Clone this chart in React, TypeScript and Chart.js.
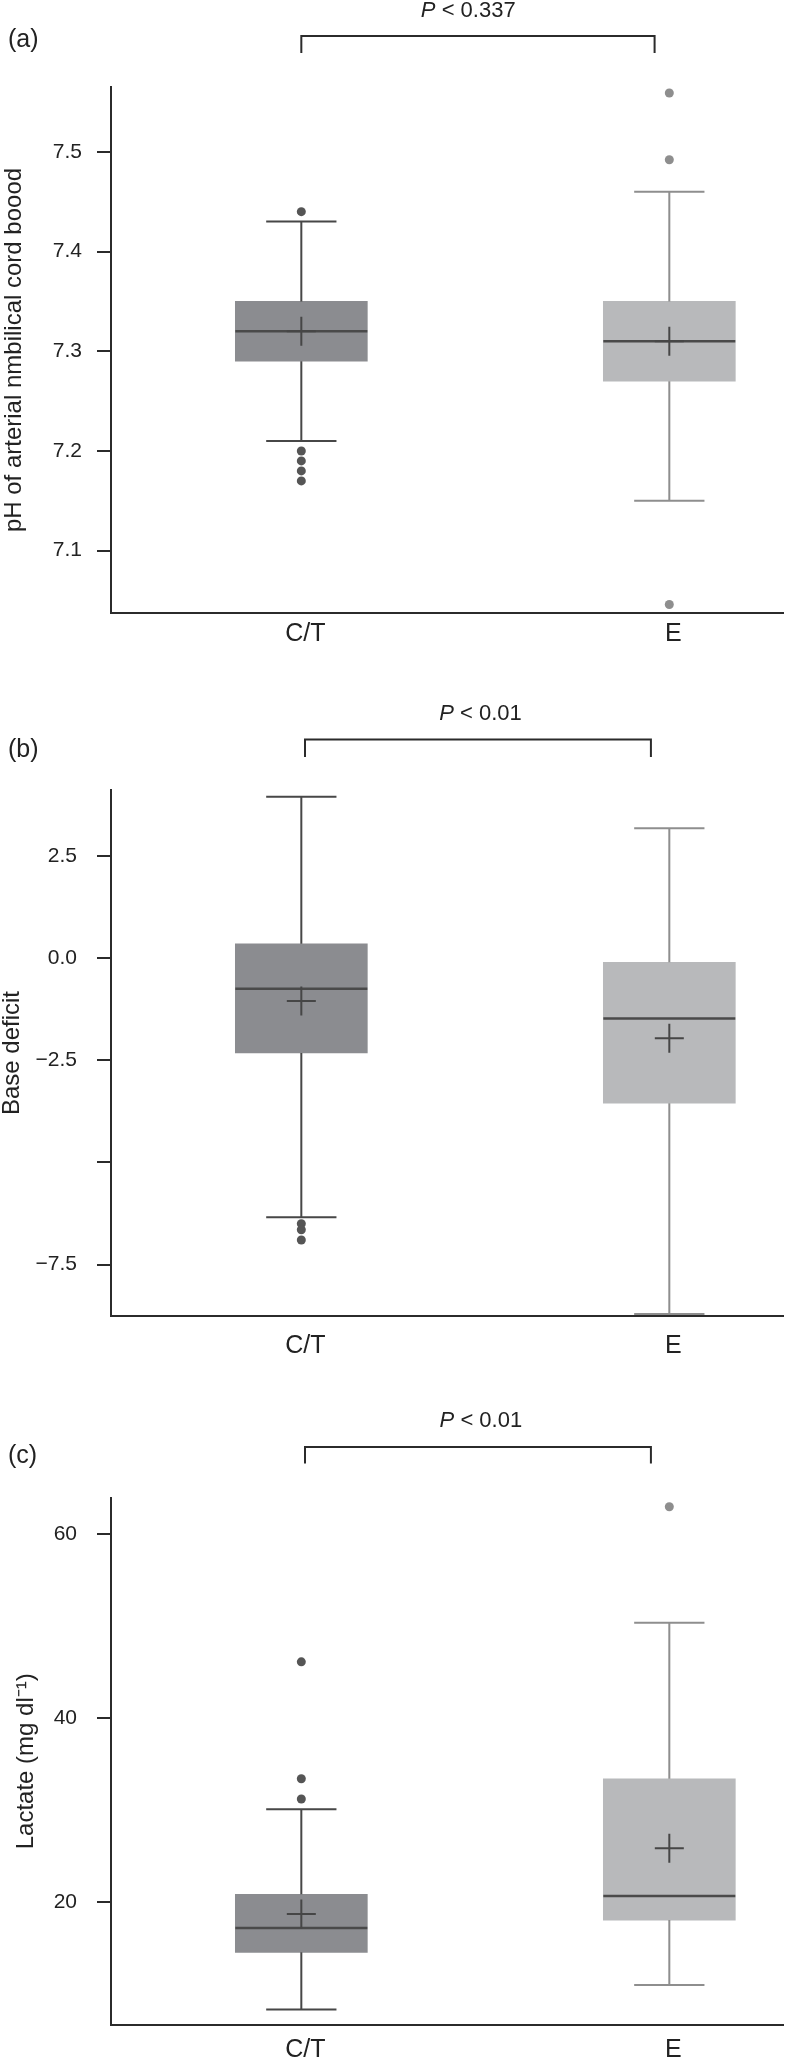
import React, { useEffect, useRef } from "react";
import { Chart, registerables } from "chart.js";

Chart.register(...registerables);

const FONT = '"Liberation Sans", Arial, Helvetica, sans-serif';

// ---------- data ----------
const groups = ["C/T", "E"];

// (a) pH of arterial umbilical cord blood
const phQ1 = [7.29, 7.27];
const phMedian = [7.32, 7.31];
const phQ3 = [7.35, 7.35];
const phMean = [7.32, 7.31];
const phWhiskerLow = [7.21, 7.15];
const phWhiskerHigh = [7.43, 7.46];
const phOutliersCT = [7.44, 7.2, 7.19, 7.18, 7.17];
const phOutliersE = [7.559, 7.492, 7.046];
const phTicks = [7.1, 7.2, 7.3, 7.4, 7.5];
const phTickLabels = ["7.1", "7.2", "7.3", "7.4", "7.5"];

// (b) Base deficit
const bdQ1 = [-2.32, -3.55];
const bdMedian = [-0.75, -1.48];
const bdQ3 = [0.35, -0.1];
const bdMean = [-1.05, -1.96];
const bdWhiskerLow = [-6.34, -8.71];
const bdWhiskerHigh = [3.95, 3.18];
const bdOutliersCT = [-6.5, -6.65, -6.9];
const bdOutliersE: number[] = [];
const bdTicks = [-7.5, -5, -2.5, 0, 2.5];
const bdTickLabels = ["\u22127.5", "", "\u22122.5", "0.0", "2.5"];

// (c) Lactate
const laQ1 = [14.55, 18.05];
const laMedian = [17.2, 20.67];
const laQ3 = [20.85, 33.4];
const laMean = [18.7, 25.85];
const laWhiskerLow = [8.35, 11.0];
const laWhiskerHigh = [30.1, 50.35];
const laOutliersCT = [46.1, 33.4, 31.2];
const laOutliersE = [62.95];
const laTicks = [20, 40, 60];
const laTickLabels = ["20", "40", "60"];

// ---------- styles ----------
const boxFill = ["#8b8c90", "#b8b9bb"];
const whiskerColor = ["#474747", "#8e8e8e"];
const outlierColor = ["#555555", "#8e8e8e"];
const medianColor = "#4a4a4a";
const meanColor = "#464646";
const axisColor = "#2b2b2b";
const textColor = "#222222";

type Spec = {
  letter: string;
  pValue: string;
  yTitle: string;
  q1: number[];
  median: number[];
  q3: number[];
  mean: number[];
  lo: number[];
  hi: number[];
  outCT: number[];
  outE: number[];
  ticks: number[];
  tickLabels: string[];
  yMin: number;
  yMax: number;
  height: number;
  top: number;
  xAxisH: number;
  tickPad: number;
  titlePad: number;
  xLabelPad: number;
  bracketY: number;
  bracketBottom: number;
  bracketL: number;
  bracketR: number;
  pX: number;
  pBaseline: number;
  letterY: number;
};

const specs: Spec[] = [
  {
    letter: "(a)", pValue: "0.337", yTitle: "pH of arterial nmbilical cord boood",
    q1: phQ1, median: phMedian, q3: phQ3, mean: phMean, lo: phWhiskerLow, hi: phWhiskerHigh,
    outCT: phOutliersCT, outE: phOutliersE, ticks: phTicks, tickLabels: phTickLabels,
    yMin: 7.0375, yMax: 7.565, height: 680, top: 87, xAxisH: 67, tickPad: 15, titlePad: 2, xLabelPad: 6,
    bracketY: 36, bracketBottom: 53, bracketL: 1.0, bracketR: 1.96, pX: 1.4536, pBaseline: 17, letterY: 40.5,
  },
  {
    letter: "(b)", pValue: "0.01", yTitle: "Base deficit",
    q1: bdQ1, median: bdMedian, q3: bdQ3, mean: bdMean, lo: bdWhiskerLow, hi: bdWhiskerHigh,
    outCT: bdOutliersCT, outE: bdOutliersE, ticks: bdTicks, tickLabels: bdTickLabels,
    yMin: -8.76, yMax: 4.116, height: 690, top: 110, xAxisH: 54, tickPad: 20, titlePad: 0, xLabelPad: 15,
    bracketY: 59.5, bracketBottom: 77, bracketL: 1.01, bracketR: 1.95, pX: 1.487, pBaseline: 40, letterY: 70.5,
  },
  {
    letter: "(c)", pValue: "0.01", yTitle: "Lactate (mg dl\u207B\u00B9)",
    q1: laQ1, median: laMedian, q3: laQ3, mean: laMean, lo: laWhiskerLow, hi: laWhiskerHigh,
    outCT: laOutliersCT, outE: laOutliersE, ticks: laTicks, tickLabels: laTickLabels,
    yMin: 6.71, yMax: 63.9, height: 692, top: 128, xAxisH: 37.5, tickPad: 20, titlePad: 14, xLabelPad: 11,
    bracketY: 77, bracketBottom: 93.6, bracketL: 1.01, bracketR: 1.95, pX: 1.488, pBaseline: 57.4, letterY: 86,
  },
];

const X_MIN = 0.4828;
const X_MAX = 2.3103;
const CAP_HALF = 0.0955;

function makeConfig(s: Spec): any {
  const whiskerPlugin = {
    id: "whiskers",
    afterDatasetDraw(chart: any, args: any) {
      if (args.index !== 0) return;
      const ctx = chart.ctx;
      const xs = chart.scales.x;
      const ys = chart.scales.y;
      const bars = chart.getDatasetMeta(0).data;
      ctx.save();
      groups.forEach((_, i) => {
        const v = i + 1;
        const cx = xs.getPixelForValue(v);
        const cl = xs.getPixelForValue(v - CAP_HALF);
        const cr = xs.getPixelForValue(v + CAP_HALF);
        ctx.strokeStyle = whiskerColor[i];
        ctx.lineWidth = 2;
        ctx.beginPath();
        ctx.moveTo(cx, ys.getPixelForValue(s.q3[i]));
        ctx.lineTo(cx, ys.getPixelForValue(s.hi[i]));
        ctx.moveTo(cl, ys.getPixelForValue(s.hi[i]));
        ctx.lineTo(cr, ys.getPixelForValue(s.hi[i]));
        ctx.moveTo(cx, ys.getPixelForValue(s.q1[i]));
        ctx.lineTo(cx, ys.getPixelForValue(s.lo[i]));
        ctx.moveTo(cl, ys.getPixelForValue(s.lo[i]));
        ctx.lineTo(cr, ys.getPixelForValue(s.lo[i]));
        ctx.stroke();
        const bar = bars[i];
        const half = bar.width / 2;
        ctx.strokeStyle = medianColor;
        ctx.lineWidth = 2.5;
        ctx.beginPath();
        const my = ys.getPixelForValue(s.median[i]);
        ctx.moveTo(bar.x - half, my);
        ctx.lineTo(bar.x + half, my);
        ctx.stroke();
      });
      ctx.restore();
    },
  };

  const annotPlugin = {
    id: "annot",
    afterDraw(chart: any) {
      const ctx = chart.ctx;
      const xs = chart.scales.x;
      ctx.save();
      const xl = xs.getPixelForValue(s.bracketL);
      const xr = xs.getPixelForValue(s.bracketR);
      ctx.strokeStyle = axisColor;
      ctx.lineWidth = 2;
      ctx.beginPath();
      ctx.moveTo(xl, s.bracketBottom);
      ctx.lineTo(xl, s.bracketY);
      ctx.lineTo(xr, s.bracketY);
      ctx.lineTo(xr, s.bracketBottom);
      ctx.stroke();

      const fs = 22;
      ctx.fillStyle = textColor;
      ctx.textBaseline = "alphabetic";
      ctx.textAlign = "left";
      ctx.font = `italic ${fs}px ${FONT}`;
      const wP = ctx.measureText("P").width;
      ctx.font = `${fs}px ${FONT}`;
      const rest = " < " + s.pValue;
      const wR = ctx.measureText(rest).width;
      const cx = xs.getPixelForValue(s.pX);
      const x0 = cx - (wP + wR) / 2;
      ctx.font = `italic ${fs}px ${FONT}`;
      ctx.fillText("P", x0, s.pBaseline);
      ctx.font = `${fs}px ${FONT}`;
      ctx.fillText(rest, x0 + wP, s.pBaseline);

      ctx.font = `25px ${FONT}`;
      ctx.textBaseline = "middle";
      ctx.fillText(s.letter, 8, s.letterY);
      ctx.restore();
    },
  };

  const outliers = [
    ...s.outCT.map((y) => ({ x: 1, y })),
    ...s.outE.map((y) => ({ x: 2, y })),
  ];
  const outColors = [
    ...s.outCT.map(() => outlierColor[0]),
    ...s.outE.map(() => outlierColor[1]),
  ];

  return {
    type: "bar",
    data: {
      datasets: [
        {
          type: "bar",
          data: groups.map((_, i) => ({ x: i + 1, y: [s.q1[i], s.q3[i]] })),
          backgroundColor: boxFill,
          borderWidth: 0,
          barThickness: 132,
          order: 3,
        },
        {
          type: "scatter",
          data: outliers,
          pointBackgroundColor: outColors,
          pointBorderWidth: 0,
          pointRadius: 4.5,
          order: 2,
          clip: false,
        },
        {
          type: "scatter",
          data: groups.map((_, i) => ({ x: i + 1, y: s.mean[i] })),
          pointStyle: "cross",
          pointRadius: 14.5,
          pointBorderColor: meanColor,
          pointBorderWidth: 2,
          order: 1,
          clip: false,
        },
      ],
    },
    options: {
      animation: false,
      responsive: false,
      devicePixelRatio: 1,
      events: [],
      layout: { padding: { top: s.top, left: 0, right: 0, bottom: 0 } },
      plugins: {
        legend: { display: false },
        tooltip: { enabled: false },
      },
      scales: {
        x: {
          type: "linear",
          min: X_MIN,
          max: X_MAX,
          offset: false,
          grid: { display: false, drawTicks: false },
          border: { display: true, color: axisColor, width: 2 },
          afterBuildTicks: (sc: any) => {
            sc.ticks = groups.map((_, i) => ({ value: i + 1 }));
          },
          afterFit: (sc: any) => {
            sc.height = s.xAxisH;
          },
          ticks: {
            autoSkip: false,
            maxRotation: 0,
            padding: s.xLabelPad,
            labelOffset: 4,
            color: textColor,
            font: { family: FONT, size: 25 },
            callback: (_v: any, i: number) => groups[i],
          },
        },
        y: {
          type: "linear",
          min: s.yMin,
          max: s.yMax,
          grid: {
            display: true,
            drawOnChartArea: false,
            drawTicks: true,
            tickLength: 14,
            color: axisColor,
            lineWidth: 2,
          },
          border: { display: true, color: axisColor, width: 2 },
          afterBuildTicks: (sc: any) => {
            sc.ticks = s.ticks.map((v) => ({ value: v }));
          },
          afterFit: (sc: any) => {
            sc.width = 111;
          },
          ticks: {
            padding: s.tickPad,
            color: textColor,
            font: { family: FONT, size: 21 },
            callback: (v: any) => {
              const idx = s.ticks.findIndex((t) => Math.abs(t - v) < 1e-9);
              return idx >= 0 ? s.tickLabels[idx] : "";
            },
          },
          title: {
            display: true,
            text: s.yTitle,
            color: textColor,
            font: { family: FONT, size: 24, lineHeight: 1 },
            padding: { top: s.titlePad, bottom: 0 },
          },
        },
      },
    },
    plugins: [whiskerPlugin, annotPlugin],
  };
}

function Panel({ spec }: { spec: Spec }) {
  const ref = useRef<HTMLCanvasElement>(null);
  useEffect(() => {
    const chart = new Chart(ref.current as HTMLCanvasElement, makeConfig(spec));
    return () => chart.destroy();
  }, [spec]);
  return (
    <canvas
      ref={ref}
      width={800}
      height={spec.height}
      style={{ display: "block", width: 800, height: spec.height }}
    />
  );
}

export default function App() {
  useEffect(() => {
    document.body.style.margin = "0";
    document.body.style.background = "#ffffff";
  }, []);
  return (
    <div style={{ width: 800, background: "#ffffff" }}>
      {specs.map((s) => (
        <Panel key={s.letter} spec={s} />
      ))}
    </div>
  );
}
